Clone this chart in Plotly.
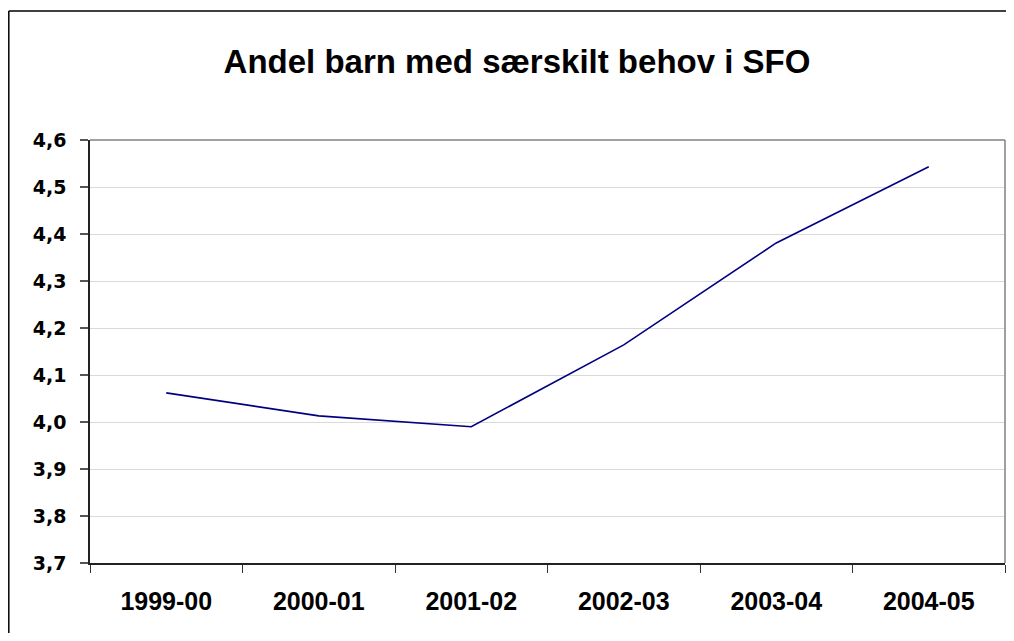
import plotly.graph_objects as go

categories = ["1999-00", "2000-01", "2001-02", "2002-03", "2003-04", "2004-05"]
values = [4.062, 4.013, 3.990, 4.164, 4.381, 4.543]
y_ticks = [3.7, 3.8, 3.9, 4.0, 4.1, 4.2, 4.3, 4.4, 4.5, 4.6]
y_labels = ["3,7", "3,8", "3,9", "4,0", "4,1", "4,2", "4,3", "4,4", "4,5", "4,6"]
title_text = "Andel barn med særskilt behov i SFO"

# page body has an 8px margin; figure coordinates = page coordinates - 8
W, H = 998, 625
ml, mt = 82, 132
plot_right, plot_bottom = 997, 555
mr, mb = W - plot_right, H - plot_bottom
pw, ph = W - ml - mr, H - mt - mb

fig = go.Figure()
fig.add_trace(go.Scatter(
    x=categories, y=values, mode="lines",
    line=dict(color="#000080", width=1.6),
    showlegend=False, hoverinfo="x+y",
))

def px_x(p):
    return (p - ml) / pw

def px_y(p):
    return (H - mb - p) / ph

shapes = [
    # outer chart frame (left and top edges; right and bottom lie outside the view)
    dict(type="line", xref="paper", yref="paper",
         x0=px_x(0.8), x1=px_x(0.8), y0=px_y(H + 5), y1=px_y(3),
         line=dict(color="black", width=1.5)),
    dict(type="line", xref="paper", yref="paper",
         x0=px_x(0.8), x1=px_x(W + 5), y0=px_y(3), y1=px_y(3),
         line=dict(color="black", width=1.5)),
    # top and right plot-area border
    dict(type="line", xref="paper", yref="paper", x0=0, x1=1, y0=1, y1=1,
         line=dict(color="#808080", width=1.5)),
    dict(type="line", xref="paper", yref="paper", x0=1, x1=1, y0=0, y1=1,
         line=dict(color="#808080", width=1.5)),
]

fig.update_layout(
    width=W, height=H,
    margin=dict(l=ml, r=mr, t=mt, b=mb, autoexpand=False),
    paper_bgcolor="white", plot_bgcolor="white",
    title=dict(text="<b>" + title_text + "</b>", x=(517 - 8) / W, xanchor="center",
               y=(H - 53) / H, yanchor="middle", yref="container",
               font=dict(family="Liberation Sans, Arial", size=33, color="black")),
    xaxis=dict(
        type="category", range=[-0.5, 5.5], automargin=False,
        tickson="boundaries", ticks="outside", ticklen=8, tickcolor="#333333", tickwidth=1.2,
        showline=True, linecolor="#222222", linewidth=1.5,
        showgrid=False, zeroline=False,
        tickfont=dict(family="Liberation Sans, Arial", size=25, color="black", weight="bold"),
        ticklabelstandoff=15,
    ),
    yaxis=dict(
        range=[3.7, 4.6], tickvals=y_ticks, ticktext=y_labels, automargin=False,
        ticks="outside", ticklen=8, tickcolor="#555555", tickwidth=1.5,
        showline=True, linecolor="#222222", linewidth=1.5,
        showgrid=True, gridcolor="#d9d9d9", gridwidth=1.3,
        zeroline=False,
        tickfont=dict(family="DejaVu Sans", size=19, color="black", weight="bold"),
        ticklabelstandoff=10,
    ),
    shapes=shapes,
)

fig.write_html("out.html")
